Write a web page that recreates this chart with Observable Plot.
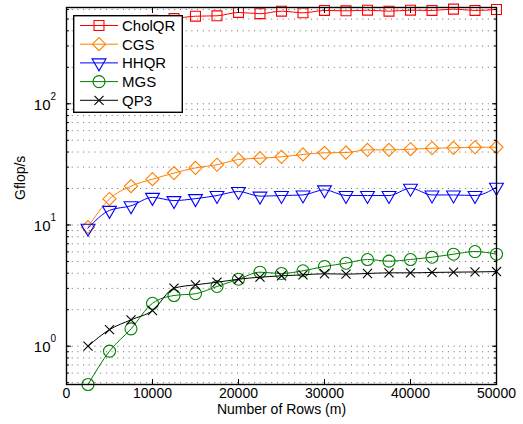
<!DOCTYPE html>
<html><head><meta charset="utf-8">
<script src="https://cdn.jsdelivr.net/npm/d3@7"></script>
<script src="https://cdn.jsdelivr.net/npm/@observablehq/plot@0.6"></script>
<style>
body{margin:0;background:#fff;}
#wrap{position:relative;width:523px;height:424px;font-family:"Liberation Sans",Arial,sans-serif;}
#legend{position:absolute;left:73px;top:15px;}
</style></head><body><div id="wrap"></div>
<script>
// ---- data ----
const rows = [2500,5000,7500,10000,12500,15000,17500,20000,22500,25000,27500,30000,32500,35000,37500,40000,42500,45000,47500,50000];
const cholqr = [330,420,460,490,505,528,532,567,554,581,563,589,585,592,581,592,589,604,589,600];
const cgs = [9.6,16.4,20.9,23.9,26.8,29.6,31.4,34.7,35.6,36.5,38.2,39.4,39.6,41.7,41.7,42.2,43.0,43.3,43.8,43.8];
const hhqr = [9.4,13.2,14.4,16.9,15.9,16.5,17.5,18.9,17.3,17.5,17.7,19.5,17.5,17.5,17.5,20.1,17.7,17.7,17.5,20.5];
const mgs = [0.483,0.91,1.39,2.26,2.62,2.71,3.11,3.57,4.08,3.98,4.19,4.55,4.84,5.19,5.03,5.19,5.42,5.74,6.04,5.74];
const qp3 = [1.0,1.37,1.65,1.97,3.01,3.21,3.37,3.57,3.71,3.81,3.88,3.96,3.93,3.98,4.03,4.03,4.06,4.08,4.10,4.13];
const seriesNames = ["CholQR","CGS","HHQR","MGS","QP3"];
const xTicks = [0,10000,20000,30000,40000,50000];
const yTicks = [1,10,100];
const yExponents = ["0","1","2"];
const xLabel = "Number of Rows (m)";
const yLabel = "Gflop/s";

// ---- styles ----
const seriesValues = [cholqr,cgs,hhqr,mgs,qp3];
const colors = ["#ff0000","#ff8000","#0000ff","#008000","#000000"];
const symbols = ["square","diamond2","triangle2","circle","times"];
const radii = [5.6,5.9,6.6,6,4.2];
const rotations = [0,0,180,0,0];
const font = "Liberation Sans, Arial, sans-serif";
const yDomain = [0.483, 623];

const minor = [];
for (let e = -1; e <= 2; e++) for (let k = 1; k <= 9; k++) {
  const v = k * Math.pow(10, e);
  if (v >= yDomain[0] && v <= yDomain[1]) minor.push(v);
}
const innerX = xTicks.slice(1, -1);

const marks = [
  Plot.gridY(minor, {stroke: "#000", strokeOpacity: 0.6, strokeDasharray: "1,4.7"}),
];
seriesValues.forEach((vals, i) => {
  const table = rows.map((r, j) => ({r, v: vals[j]}));
  marks.push(Plot.line(table, {x: "r", y: "v", stroke: colors[i], strokeWidth: 1, curve: "monotone-x"}));
  marks.push(Plot.dot(table, {x: "r", y: "v", stroke: colors[i], symbol: symbols[i], r: radii[i], rotate: rotations[i], strokeWidth: 1.1, fill: "none"}));
});
marks.push(
  Plot.axisY(minor, {anchor: "left", tickSize: -3, tickFormat: () => "", label: null}),
  Plot.axisY(minor, {anchor: "right", tickSize: -3, tickFormat: () => "", label: null}),
  Plot.axisY(yTicks, {anchor: "left", tickSize: -5, tickFormat: () => "", label: null}),
  Plot.axisY(yTicks, {anchor: "right", tickSize: -5, tickFormat: () => "", label: null}),
  Plot.axisX(innerX, {anchor: "bottom", tickSize: -5, tickFormat: () => "", label: null}),
  Plot.axisX(innerX, {anchor: "top", tickSize: -5, tickFormat: () => "", label: null}),
  Plot.frame({stroke: "#000", strokeWidth: 1.4}),
  Plot.text(yTicks, {y: d => d, text: () => "10", frameAnchor: "left", textAnchor: "end", dx: -16, dy: 1, fontSize: 15, fill: "#000"}),
  Plot.text(yTicks, {y: d => d, text: (d, i) => yExponents[i], frameAnchor: "left", textAnchor: "start", dx: -16, dy: -7, fontSize: 10, fill: "#000"}),
  Plot.text(xTicks, {x: d => d, text: d => String(d), frameAnchor: "bottom", dy: 13, fontSize: 14, fill: "#000"}),
  Plot.text([xLabel], {text: d => d, frameAnchor: "bottom", dy: 29, fontSize: 14, fill: "#000"}),
  Plot.text([yLabel], {text: d => d, frameAnchor: "left", rotate: -90, dx: -46, dy: 4, fontSize: 14, fill: "#000"})
);

const chart = Plot.plot({
  width: 523, height: 424,
  marginLeft: 66, marginRight: 27, marginTop: 7, marginBottom: 40,
  style: {fontFamily: font, fontSize: "14px", background: "#fff", color: "#000"},
  x: {domain: [0, 50000]},
  y: {type: "log", domain: yDomain},
  marks
});
const wrap = document.getElementById("wrap");
wrap.appendChild(chart);

// ---- legend overlay ----
const lg = d3.select(wrap).append("svg").attr("id", "legend").attr("width", 110).attr("height", 98);
lg.append("rect").attr("x", 0.7).attr("y", 0.7).attr("width", 108.6).attr("height", 96.6).attr("fill", "#fff").attr("stroke", "#000").attr("stroke-width", 1.4);
const symMap = {square: d3.symbolSquare, diamond2: d3.symbolDiamond2, triangle2: d3.symbolTriangle2, circle: d3.symbolCircle, times: d3.symbolTimes};
seriesNames.forEach((name, i) => {
  const cy = 10.5 + i * 18.7;
  const g = lg.append("g");
  g.append("line").attr("x1", 7).attr("x2", 45).attr("y1", cy).attr("y2", cy).attr("stroke", colors[i]).attr("stroke-width", 1);
  const size = Math.PI * radii[i] * radii[i];
  g.append("path").attr("d", d3.symbol(symMap[symbols[i]], size)()).attr("transform", `translate(26,${cy}) rotate(${rotations[i]})`)
    .attr("fill", "none").attr("stroke", colors[i]).attr("stroke-width", 1.1);
  g.append("text").attr("x", 49).attr("y", cy).attr("dy", "0.36em").attr("font-size", 15).attr("font-family", font).attr("fill", "#000").text(name);
});
</script></body></html>
